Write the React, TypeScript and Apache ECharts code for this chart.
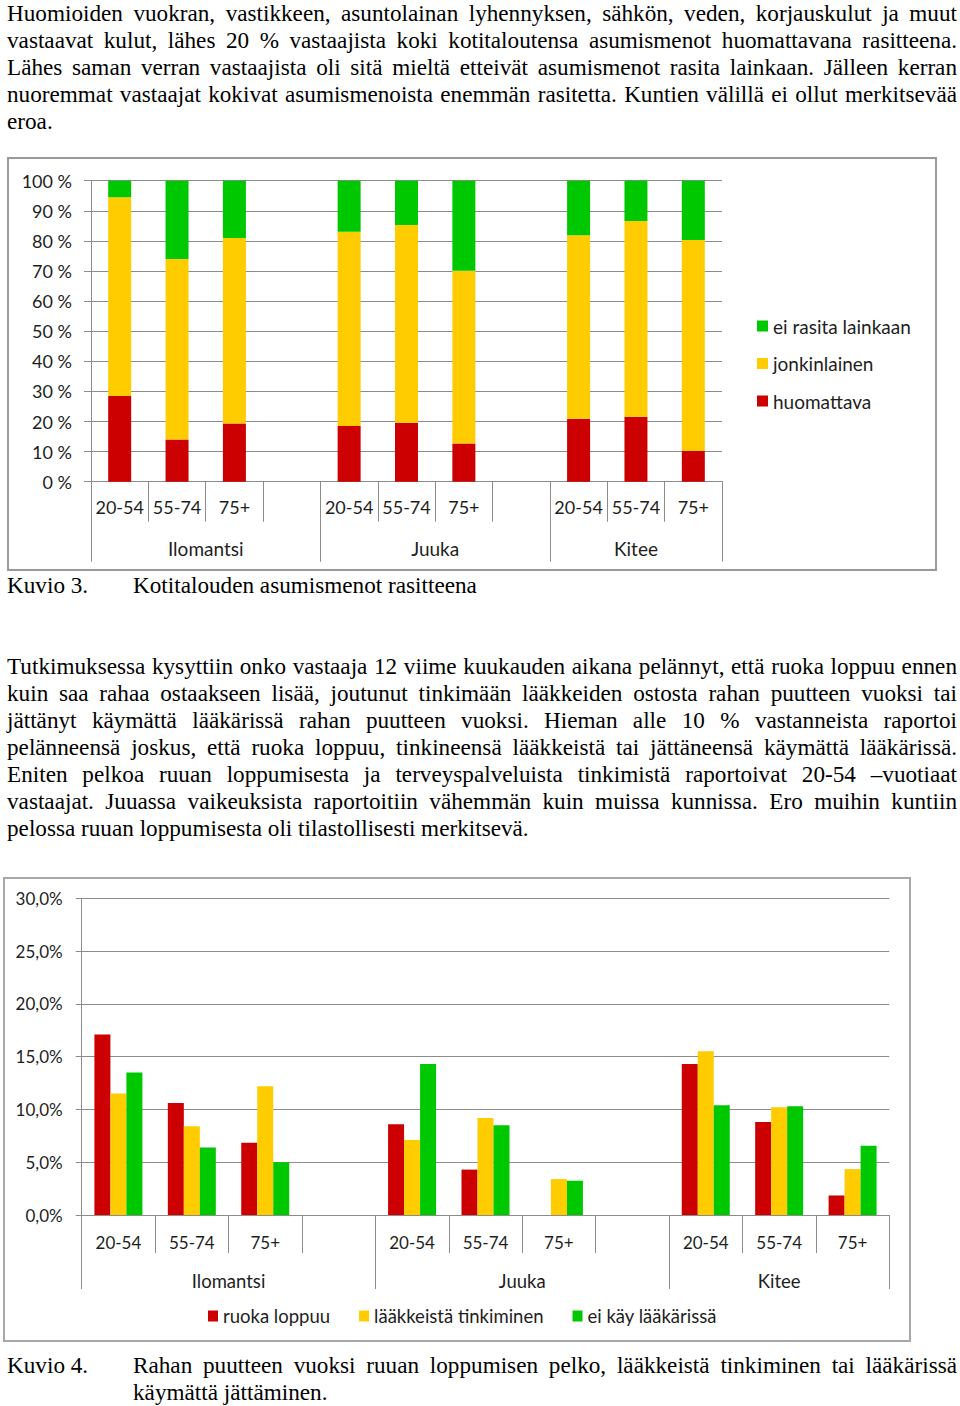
import React, { useEffect, useRef } from "react";
import * as echarts from "echarts";

// ---------- data ----------
const ageCategories = ["20-54", "55-74", "75+", "", "20-54", "55-74", "75+", "", "20-54", "55-74", "75+"];
const municipalities = ["Ilomantsi", "Juuka", "Kitee"];
const municipalityBounds = [0, 4, 8, 11];

// Kuvio 3 (percent of respondents)
const huomattava = [28.5, 14.0, 19.3, null, 18.5, 19.6, 12.7, null, 20.9, 21.6, 10.2];
const jonkinlainen = [66.0, 60.0, 61.7, null, 64.5, 65.7, 57.4, null, 61.0, 65.0, 70.1];
const eiRasita = [5.5, 26.0, 19.0, null, 17.0, 14.7, 29.9, null, 18.1, 13.4, 19.7];
const yTicks1 = [0, 10, 20, 30, 40, 50, 60, 70, 80, 90, 100];

// Kuvio 4 (percent)
const ruokaLoppuu = [17.1, 10.6, 6.85, null, 8.6, 4.3, 0, null, 14.3, 8.8, 1.85];
const laakkeistaTinkiminen = [11.5, 8.4, 12.2, null, 7.1, 9.2, 3.4, null, 15.5, 10.2, 4.35];
const eiKayLaakarissa = [13.5, 6.4, 5.0, null, 14.3, 8.5, 3.25, null, 10.4, 10.3, 6.55];
const yTicks2 = [0, 5, 10, 15, 20, 25, 30];

// ---------- text ----------
const para1 = [
  "Huomioiden vuokran, vastikkeen, asuntolainan lyhennyksen, sähkön, veden, korjauskulut ja muut",
  "vastaavat kulut, lähes 20 % vastaajista koki kotitaloutensa asumismenot huomattavana rasitteena.",
  "Lähes saman verran vastaajista oli sitä mieltä etteivät asumismenot rasita lainkaan. Jälleen kerran",
  "nuoremmat vastaajat kokivat asumismenoista enemmän rasitetta. Kuntien välillä ei ollut merkitsevää",
  "eroa.",
];
const para2 = [
  "Tutkimuksessa kysyttiin onko vastaaja 12 viime kuukauden aikana pelännyt, että ruoka loppuu ennen",
  "kuin saa rahaa ostaakseen lisää, joutunut tinkimään lääkkeiden ostosta rahan puutteen vuoksi tai",
  "jättänyt käymättä lääkärissä rahan puutteen vuoksi. Hieman alle 10 % vastanneista raportoi",
  "pelänneensä joskus, että ruoka loppuu, tinkineensä lääkkeistä tai jättäneensä käymättä lääkärissä.",
  "Eniten pelkoa ruuan loppumisesta ja terveyspalveluista tinkimistä raportoivat 20-54 –vuotiaat",
  "vastaajat. Juuassa vaikeuksista raportoitiin vähemmän kuin muissa kunnissa. Ero muihin kuntiin",
  "pelossa ruuan loppumisesta oli tilastollisesti merkitsevä.",
];
const caption3 = ["Kuvio 3.", "Kotitalouden asumismenot rasitteena"];
const caption4 = [
  "Kuvio 4.",
  "Rahan puutteen vuoksi ruuan loppumisen pelko, lääkkeistä tinkiminen tai lääkärissä",
  "käymättä jättäminen.",
];

const RED = "#CC0000";
const YELLOW = "#FFCC00";
const GREEN = "#00C800";
const GRID = "#8c8c8c";
const TXT = "#1e1e1e";
const FONT = "Lato";

const groupCenters = municipalityBounds.slice(0, -1).map((b, i) => (b + municipalityBounds[i + 1]) / 2);
const groupName = (v: number) => {
  const i = groupCenters.findIndex((c) => Math.abs(c - v) < 1e-6);
  return i >= 0 ? municipalities[i] : "";
};

function groupAxis(tickLen: number, labelMargin: number, fontSize: number) {
  return {
    type: "value",
    position: "bottom",
    min: 0,
    max: municipalityBounds[municipalityBounds.length - 1],
    axisLine: { show: false },
    splitLine: { show: false },
    axisTick: { show: true, customValues: municipalityBounds, length: tickLen, lineStyle: { color: GRID, width: 1 } },
    axisLabel: {
      customValues: groupCenters,
      formatter: (v: number) => groupName(v),
      margin: labelMargin,
      fontFamily: FONT,
      fontSize,
      color: TXT,
    },
  };
}

function Chart1() {
  const ref = useRef<HTMLDivElement>(null);
  useEffect(() => {
    const chart = echarts.init(ref.current!, null, { renderer: "svg" });
    chart.setOption({
      animation: false,
      grid: { left: 91, right: 238, top: 30.7, bottom: 108.3, containLabel: false },
      legend: {
        orient: "vertical",
        left: 752,
        top: 161.5,
        itemWidth: 11,
        itemHeight: 11,
        itemGap: 18.5,
        icon: "rect",
        data: ["ei rasita lainkaan", "jonkinlainen", "huomattava"],
        textStyle: { fontFamily: FONT, fontSize: 19, color: TXT },
      },
      xAxis: [
        {
          type: "category",
          data: ageCategories,
          position: "bottom",
          axisLine: { show: true, lineStyle: { color: GRID, width: 1 } },
          axisTick: { show: true, alignWithLabel: false, interval: 0, length: 40, lineStyle: { color: GRID } },
          axisLabel: { interval: 0, margin: 16, fontFamily: FONT, fontSize: 18, color: TXT },
        },
        groupAxis(80, 57, 19),
      ],
      yAxis: {
        type: "value",
        min: yTicks1[0],
        max: yTicks1[yTicks1.length - 1],
        interval: yTicks1[1] - yTicks1[0],
        axisLine: { show: true, lineStyle: { color: GRID, width: 1 } },
        axisTick: { show: true, length: 7, lineStyle: { color: GRID } },
        splitLine: { show: true, lineStyle: { color: GRID, width: 1.2 } },
        axisLabel: { formatter: "{value} %", margin: 19, fontFamily: FONT, fontSize: 18, color: TXT },
      },
      series: [
        { name: "huomattava", type: "bar", stack: "a", data: huomattava, barWidth: 23, itemStyle: { color: RED } },
        { name: "jonkinlainen", type: "bar", stack: "a", data: jonkinlainen, barWidth: 23, itemStyle: { color: YELLOW } },
        { name: "ei rasita lainkaan", type: "bar", stack: "a", data: eiRasita, barWidth: 23, itemStyle: { color: GREEN } },
      ],
    });
    return () => chart.dispose();
  }, []);
  return <div ref={ref} style={{ position: "absolute", left: 0, top: 150, width: 960, height: 440 }} />;
}

function Chart2() {
  const ref = useRef<HTMLDivElement>(null);
  useEffect(() => {
    const chart = echarts.init(ref.current!, null, { renderer: "svg" });
    const fmt = (v: number) => v.toFixed(1).replace(".", ",") + "%";
    chart.setOption({
      animation: false,
      grid: { left: 81.7, right: 70.7, top: 28.3, bottom: 135, containLabel: false },
      legend: {
        orient: "horizontal",
        left: 203,
        top: 431.5,
        itemWidth: 10,
        itemHeight: 11,
        itemGap: 29,
        icon: "rect",
        data: ["ruoka loppuu", "lääkkeistä tinkiminen", "ei käy lääkärissä"],
        textStyle: { fontFamily: FONT, fontSize: 18.5, color: TXT },
      },
      xAxis: [
        {
          type: "category",
          data: ageCategories,
          position: "bottom",
          axisLine: { show: true, lineStyle: { color: GRID, width: 1 } },
          axisTick: { show: true, alignWithLabel: false, interval: 0, length: 38, lineStyle: { color: GRID } },
          axisLabel: { interval: 0, margin: 19, fontFamily: FONT, fontSize: 17, color: TXT },
        },
        groupAxis(74, 56.5, 18.5),
      ],
      yAxis: {
        type: "value",
        min: yTicks2[0],
        max: yTicks2[yTicks2.length - 1],
        interval: yTicks2[1] - yTicks2[0],
        axisLine: { show: true, lineStyle: { color: GRID, width: 1 } },
        axisTick: { show: true, length: 6, lineStyle: { color: GRID } },
        splitLine: { show: true, lineStyle: { color: GRID, width: 1.2 } },
        axisLabel: { formatter: fmt, margin: 19, fontFamily: FONT, fontSize: 17, color: TXT },
      },
      series: [
        { name: "ruoka loppuu", type: "bar", data: ruokaLoppuu, barWidth: 16, barGap: "0%", itemStyle: { color: RED } },
        { name: "lääkkeistä tinkiminen", type: "bar", data: laakkeistaTinkiminen, barWidth: 16, barGap: "0%", itemStyle: { color: YELLOW } },
        { name: "ei käy lääkärissä", type: "bar", data: eiKayLaakarissa, barWidth: 16, barGap: "0%", itemStyle: { color: GREEN } },
      ],
    });
    return () => chart.dispose();
  }, []);
  return <div ref={ref} style={{ position: "absolute", left: 0, top: 870, width: 960, height: 480 }} />;
}

const serif: React.CSSProperties = {
  fontFamily: "'Liberation Serif', 'Times New Roman', serif",
  fontSize: 23.2,
  color: "#000",
};

function Paragraph({ lines, top, left = 7, width = 950 }: { lines: string[]; top: number; left?: number; width?: number }) {
  return (
    <div style={{ position: "absolute", left, top, width, ...serif }}>
      {lines.map((l, i) => (
        <div
          key={i}
          style={{
            height: 27,
            lineHeight: "27px",
            whiteSpace: "nowrap",
            textAlign: i < lines.length - 1 ? "justify" : "left",
            textAlignLast: i < lines.length - 1 ? "justify" : "left",
          } as React.CSSProperties}
        >
          {l}
        </div>
      ))}
    </div>
  );
}

export default function App() {
  useEffect(() => {
    document.body.style.margin = "0";
  }, []);
  return (
    <div style={{ position: "absolute", left: 0, top: 0, width: 960, height: 1406, background: "#fff", overflow: "hidden" }}>
      <Paragraph lines={para1} top={0} />

      <div
        style={{
          position: "absolute",
          left: 7,
          top: 157,
          width: 930,
          height: 414,
          border: "2px solid #9a9a9a",
          boxSizing: "border-box",
        }}
      />
      <Chart1 />
      <div style={{ position: "absolute", left: 7, top: 572, ...serif, lineHeight: "27px" }}>{caption3[0]}</div>
      <div style={{ position: "absolute", left: 133, top: 572, ...serif, lineHeight: "27px" }}>{caption3[1]}</div>

      <Paragraph lines={para2} top={653} />

      <div
        style={{
          position: "absolute",
          left: 3,
          top: 877,
          width: 908,
          height: 465,
          border: "2px solid #a8a8a8",
          boxSizing: "border-box",
        }}
      />
      <Chart2 />
      <div style={{ position: "absolute", left: 7, top: 1352, ...serif, lineHeight: "27px" }}>{caption4[0]}</div>
      <Paragraph lines={[caption4[1], caption4[2]]} top={1352} left={133} width={824} />
    </div>
  );
}
